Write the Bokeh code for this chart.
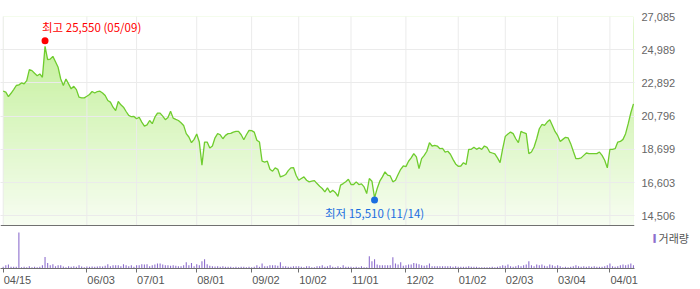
import numpy as np
from bokeh.plotting import figure
from bokeh.models import (Range1d, FixedTicker, NumeralTickFormatter, Span,
                          LinearAxis, Label, CustomLabelingPolicy)
from bokeh.core.properties import value
from bokeh.embed import file_html
from bokeh.resources import INLINE

# ---------------- data ----------------
tick_idx = [0, 32, 51, 74, 95, 113, 133, 154, 174, 192, 212, 232]
tick_labels = ["04/15", "06/03", "07/01", "08/01", "09/02", "10/02",
               "11/01", "12/02", "01/02", "02/03", "03/04", "04/01"]
price_ticks = [14506, 16603, 18699, 20796, 22892, 24989, 27085]

close = [
    22370, 22310, 22030, 22240, 22470, 22730, 22770, 22890, 22830, 23040,
    23730, 23670, 23500, 23350, 23460, 23250, 25200, 24360, 24400, 24570,
    24230, 23880, 23140, 22730, 23140, 22830, 22520, 22680, 22470, 21990,
    21950, 21950, 22050, 22160, 22350, 22260, 22350, 22370, 22260, 22100,
    21780, 21680, 21360, 21150, 21720, 21510, 21360, 21090, 20840, 20760,
    20780, 20630, 20730, 20420, 20170, 20250, 20520, 20320, 20730, 20990,
    20990, 20800, 20570, 20710, 21110, 20670, 20590, 20520, 20380, 20210,
    19690, 19480, 19120, 19330, 19670, 19160, 17700, 19160, 19160, 18790,
    18910, 19430, 19690, 19620, 19370, 19580, 19690, 19710, 19790, 19830,
    19830, 19620, 19310, 19620, 19900, 19880, 19790, 19270, 19160, 17950,
    17900, 17950, 17440, 17320, 17530, 17440, 16960, 17020, 17110, 17360,
    17530, 17550, 17070, 16750, 16860, 16960, 16750, 16650, 16690, 16730,
    16540, 16370, 16230, 16020, 16270, 15980, 16120, 15980, 15730, 16440,
    16540, 16650, 16810, 16480, 16480, 16650, 16480, 16520, 16330, 15910,
    16860, 16690, 15640, 16230, 16690, 16960, 17280, 17070, 17020, 16650,
    16750, 17110, 17440, 17650, 17610, 17950, 18160, 18430, 18220, 17490,
    18110, 18320, 18580, 19120, 18910, 18950, 18910, 18740, 18760, 18530,
    18580, 18390, 18070, 17780, 17630, 17650, 17860, 17740, 18700, 18700,
    18830, 18700, 18790, 18700, 18910, 18830, 18530, 18470, 18410, 18160,
    17860, 18740, 19520, 19670, 19790, 19690, 19370, 19120, 19830, 19750,
    19690, 18430, 18530, 18850, 19370, 20000, 20270, 20210, 20420, 20570,
    20210, 19830, 19580, 19200, 19330, 19460, 19430, 19060, 18580, 18110,
    18110, 18160, 18320, 18470, 18430, 18430, 18430, 18430, 18530, 18320,
    18010, 17530, 18700, 18700, 18740, 19160, 19200, 19330, 19690, 20320,
    21010, 21570,
]

volume = [  # thousand shares
    100, 200, 240, 100, 100, 100, 2180, 80, 100, 80,
    140, 80, 100, 80, 100, 200, 700, 340, 200, 260,
    140, 200, 200, 120, 80, 140, 100, 140, 100, 200,
    120, 80, 120, 100, 120, 100, 120, 140, 120, 160,
    260, 140, 200, 200, 200, 140, 260, 200, 140, 200,
    100, 200, 200, 260, 240, 260, 140, 200, 240, 300,
    300, 240, 200, 200, 160, 200, 160, 140, 140, 200,
    380, 200, 340, 140, 260, 200, 440, 560, 260, 160,
    140, 120, 140, 100, 140, 100, 100, 100, 80, 100,
    80, 100, 100, 80, 100, 80, 100, 200, 100, 300,
    140, 140, 200, 200, 200, 160, 380, 140, 140, 100,
    100, 140, 140, 140, 100, 80, 140, 140, 80, 80,
    140, 140, 200, 100, 140, 200, 100, 80, 140, 80,
    200, 100, 100, 100, 80, 100, 80, 140, 80, 80,
    740, 440, 560, 240, 200, 200, 200, 200, 200, 680,
    300, 240, 380, 160, 200, 240, 240, 340, 300, 260,
    200, 160, 200, 300, 140, 140, 140, 140, 140, 140,
    140, 140, 100, 140, 100, 100, 100, 100, 140, 100,
    100, 100, 80, 80, 80, 80, 80, 100, 80, 100,
    140, 200, 160, 240, 140, 100, 140, 200, 140, 200,
    240, 440, 200, 140, 240, 200, 240, 160, 140, 240,
    200, 140, 200, 140, 80, 100, 80, 100, 140, 200,
    140, 100, 140, 100, 140, 100, 140, 100, 100, 100,
    140, 200, 300, 140, 100, 140, 200, 240, 200, 240,
    300, 200,
]

high_idx, high_val, high_date = 16, 25550, "05/09"
low_idx, low_val, low_date = 142, 15510, "11/14"
volume_name = "거래량"

# ---------------- layout constants ----------------
n = len(close)
idx = np.arange(n)
PRICE_TOP = price_ticks[-1]
TICK_STEP = (price_ticks[-1] - price_ticks[0]) / 6
PRICE_BOTTOM = price_ticks[0] - TICK_STEP * 0.292
FRAME_H, PRICE_H = 252, 209
Y_START = PRICE_BOTTOM - (PRICE_TOP - PRICE_BOTTOM) * (FRAME_H - PRICE_H) / PRICE_H
VOL_END = max(volume) * 7.0
X0, X1 = -1.03, n - 0.6
LABEL_SHIFT = 5.45   # x labels sit to the right of their tick marks

AX_FONT = "Liberation Sans"
KR_FONT = "Noto Sans CJK KR"

p = figure(width=700, height=289, x_range=Range1d(X0, X1),
           y_range=Range1d(Y_START, PRICE_TOP),
           output_backend="svg", toolbar_location=None,
           y_axis_location="right", x_axis_location="below",
           min_border_left=0, min_border_right=66, min_border_top=16,
           min_border_bottom=21)
p.extra_y_ranges = {"vol": Range1d(0, VOL_END)}
p.extra_x_ranges = {"lab": Range1d(X0 - LABEL_SHIFT, X1 - LABEL_SHIFT)}
p.outline_line_color = None
p.background_fill_color = "white"

# x axis: tick marks only (labels are drawn by the second axis)
xa = p.xaxis[0]
xa.ticker = FixedTicker(ticks=tick_idx)
xa.major_tick_in = 0
xa.major_tick_out = 4
xa.minor_tick_out = 0
xa.minor_tick_in = 0
xa.axis_line_color = "#707070"
xa.major_tick_line_color = "#707070"
xa.major_label_policy = CustomLabelingPolicy(code="return []")
xa.major_label_text_font_size = "0px"
xa.major_label_standoff = 0

# x axis labels (left-aligned to the ticks)
xb = LinearAxis(x_range_name="lab", ticker=FixedTicker(ticks=tick_idx),
                major_label_overrides={i: s for i, s in zip(tick_idx, tick_labels)},
                axis_line_color=None, major_tick_in=0, major_tick_out=0,
                minor_tick_in=0, minor_tick_out=0,
                major_label_text_font=AX_FONT, major_label_text_font_size="11px",
                major_label_text_color="#555555", major_label_standoff=1)
p.add_layout(xb, "below")

ya = p.yaxis[0]
ya.ticker = FixedTicker(ticks=price_ticks)
ya.formatter = NumeralTickFormatter(format="0,0")
ya.major_tick_in = 0
ya.major_tick_out = 0
ya.minor_tick_in = 0
ya.minor_tick_out = 0
ya.axis_line_color = None
ya.major_label_text_font = AX_FONT
ya.major_label_text_font_size = "11px"
ya.major_label_text_color = "#666666"
ya.major_label_standoff = 7

p.xgrid.visible = False
p.ygrid.grid_line_color = "#ebebeb"
p.ygrid.level = "guide"

# gradient area fill (layered bands, greener at top)
N = 70
ks = np.arange(N)
tops = PRICE_TOP - (PRICE_TOP - PRICE_BOTTOM) * ks / N
fr = (ks + 0.5) / N
alpha = np.clip((PRICE_H * fr - 24) / 185 * 0.87, 0, 0.9)
base = np.array([195, 240, 154])
cols = ["#%02x%02x%02x" % tuple(int(round(c)) for c in base * (1 - a) + 255 * a) for a in alpha]
p.quad(left=0, right=n - 1, bottom=PRICE_BOTTOM, top=tops, fill_color=cols, line_color=None)
# mask the part above the price line
p.varea(x=idx, y1=close, y2=PRICE_TOP, fill_color="white")

# vertical grid lines in the price panel only
p.segment(x0=tick_idx, y0=PRICE_BOTTOM, x1=tick_idx, y1=PRICE_TOP,
          line_color="#ebebeb", line_width=1, level="guide")

# separator between panels
p.add_layout(Span(location=PRICE_BOTTOM, dimension="width", line_color="#707070", line_width=1))

# volume bars
p.vbar(x=idx, top=volume, width=0.42, y_range_name="vol",
       fill_color="#8e6fce", line_color=None)

# price line
p.line(idx, close, line_color="#6fcc2e", line_width=1.3, level="annotation")

# high / low markers
p.scatter([high_idx], [high_val], size=7, fill_color="#ff0000", line_color=None, level="annotation")
p.text([high_idx], [high_val], text=[f"최고 {high_val:,} ({high_date})"],
       text_font=value(KR_FONT), text_font_size="11.5px", text_color="#ff0000",
       text_align="left", text_baseline="middle", x_offset=-3, y_offset=-14,
       level="annotation")
p.scatter([low_idx], [low_val], size=7, fill_color="#1a6ee0", line_color=None, level="annotation")
p.text([low_idx], [low_val], text=[f"최저 {low_val:,} ({low_date})"],
       text_font=value(KR_FONT), text_font_size="11.5px", text_color="#1a6ee0",
       text_align="center", text_baseline="middle", x_offset=0, y_offset=13,
       level="annotation")

# volume legend in the right margin (labels in side panels are not clipped to the frame)
LEG_X = n + 6.7
LEG_Y = VOL_END * 30.3 / FRAME_H
p.add_layout(Label(x=LEG_X, y=LEG_Y, y_range_name="vol", text="▍",
                   text_color="#8e6fce", text_font="DejaVu Sans", text_font_size="7.5px",
                   text_baseline="middle", text_align="left"), "right")
p.add_layout(Label(x=LEG_X + 1.9, y=LEG_Y, y_range_name="vol", text=volume_name,
                   text_color="#555555", text_font=KR_FONT, text_font_size="11px",
                   text_baseline="middle", text_align="left"), "above")

open("out.html", "w").write(file_html(p, INLINE))
